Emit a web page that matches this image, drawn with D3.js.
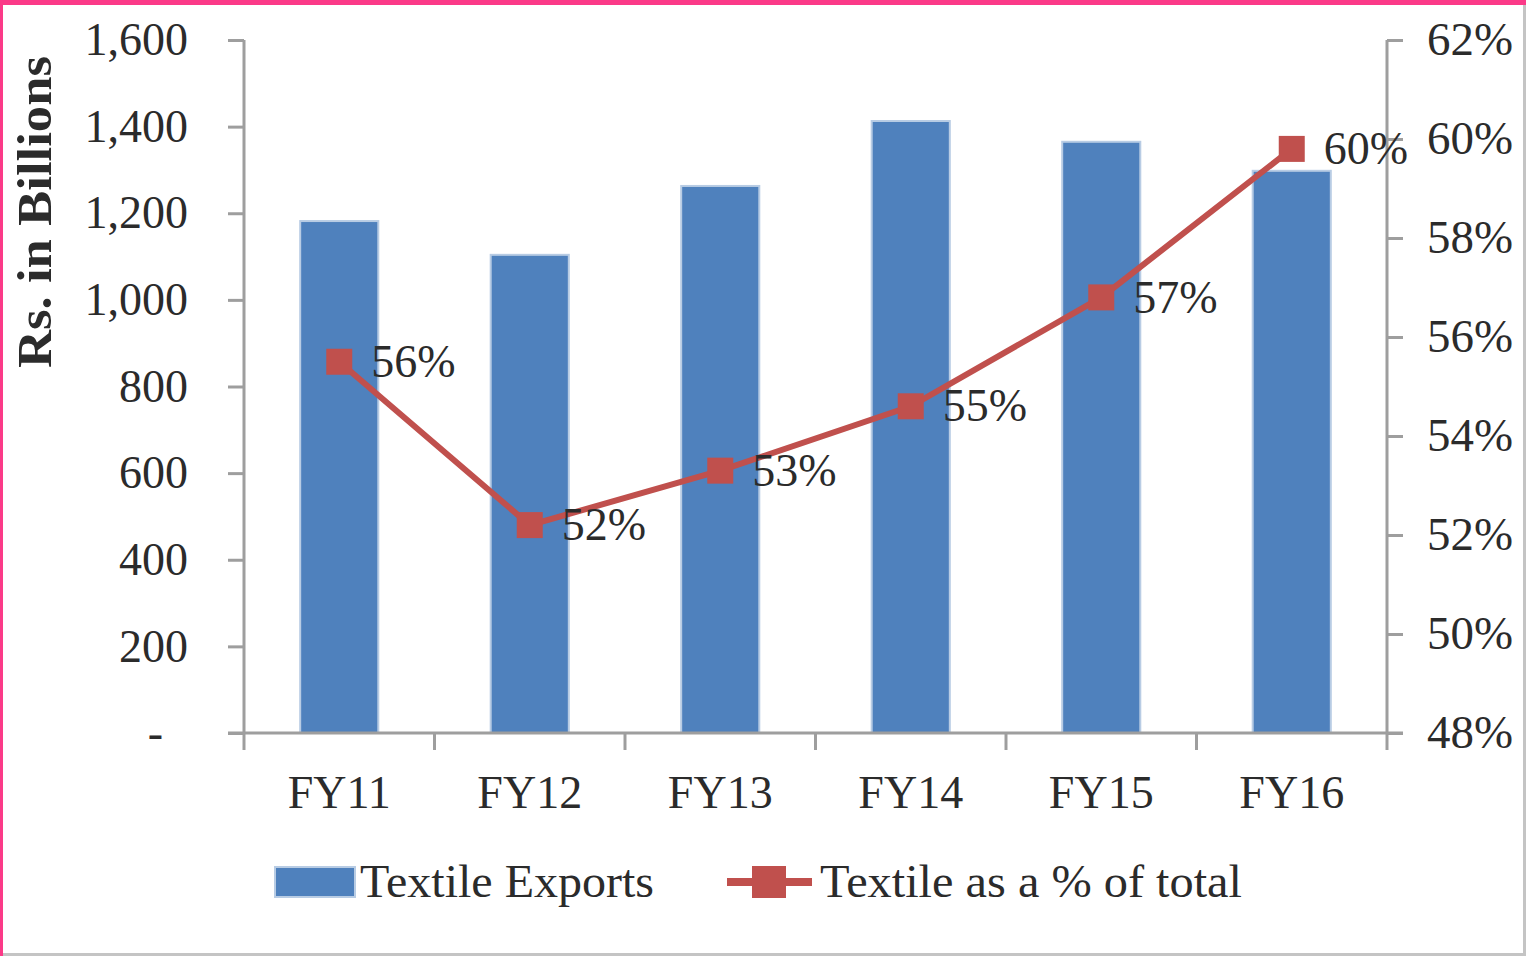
<!DOCTYPE html>
<html>
<head>
<meta charset="utf-8">
<script src="https://cdn.jsdelivr.net/npm/d3@7"></script>
<style>
  body { margin: 0; background: #fff; }
  text { font-family: "Liberation Serif", "Times New Roman", serif; fill: #2b2b2b; }
</style>
</head>
<body>
<div id="chart"></div>
<script>
// chart data
const categories = ["FY11", "FY12", "FY13", "FY14", "FY15", "FY16"];
const exportsValues = [1182, 1104, 1263, 1413, 1365, 1298];
const sharePct = [55.5, 52.2, 53.3, 54.6, 56.8, 59.8];
const shareLabels = ["56%", "52%", "53%", "55%", "57%", "60%"];
const leftTicks = [0, 200, 400, 600, 800, 1000, 1200, 1400, 1600];
const rightTicks = [48, 50, 52, 54, 56, 58, 60, 62];

const W = 1526, H = 956;
var margin = { top: 40, right: 139, bottom: 223, left: 244 },
  width = W - margin.left - margin.right,
  height = H - margin.top - margin.bottom;
var barColor = "#4f81bd";
var lineColor = "#c0504d";
var axisColor = "#9e9e9e";

var root = d3.select("#chart").append("svg")
  .attr("width", W).attr("height", H);

// frame
root.append("rect").attr("x", 0).attr("y", 0).attr("width", W).attr("height", 5).attr("fill", "#fb3a88");
root.append("rect").attr("x", 0).attr("y", 0).attr("width", 3).attr("height", H).attr("fill", "#fb3a88");
root.append("rect").attr("x", W - 3).attr("y", 5).attr("width", 3).attr("height", H).attr("fill", "#c4c4c4");
root.append("rect").attr("x", 3).attr("y", H - 3).attr("width", W).attr("height", 3).attr("fill", "#c4c4c4");

var svg = root.append("g")
  .attr("transform", "translate(" + margin.left + "," + margin.top + ")");

var x = d3.scaleBand().domain(categories).range([0, width]).paddingInner(0.59).paddingOuter(0.295);
var xb = d3.scaleBand().domain(categories).range([0, width]);
var y = d3.scaleLinear().domain([0, 1600]).range([height, 0]);
var y2 = d3.scaleLinear().domain([48, 62]).range([height, 0]);

// bars
svg.selectAll(".bar").data(exportsValues).enter().append("rect")
  .attr("class", "bar")
  .attr("x", (d, i) => x(categories[i]))
  .attr("width", x.bandwidth())
  .attr("y", d => y(d))
  .attr("height", d => height - y(d))
  .attr("fill", barColor)
  .attr("stroke", "#b8cce4").attr("stroke-width", 2);

// left axis
var yAxis = d3.axisLeft(y).tickValues(leftTicks).tickSize(16).tickPadding(40)
  .tickFormat(d => d === 0 ? "-" : d3.format(",")(d));
var gl = svg.append("g").call(yAxis);
gl.select(".domain").remove();
gl.append("line").attr("x1", 0).attr("x2", 0).attr("y1", 0).attr("y2", height)
  .attr("stroke", axisColor).attr("stroke-width", 3);
gl.selectAll(".tick line").attr("stroke", axisColor).attr("stroke-width", 3);
gl.selectAll(".tick text").style("font-size", "46px").attr("fill", "#2b2b2b")
  .attr("dx", d => d === 0 ? -25 : 0);

// right axis
var yAxis2 = d3.axisRight(y2).tickValues(rightTicks).tickSize(16).tickPadding(24)
  .tickFormat(d => d + "%");
var gr = svg.append("g").attr("transform", "translate(" + width + ",0)").call(yAxis2);
gr.select(".domain").remove();
gr.append("line").attr("x1", 0).attr("x2", 0).attr("y1", 0).attr("y2", height)
  .attr("stroke", axisColor).attr("stroke-width", 3);
gr.selectAll(".tick line").attr("stroke", axisColor).attr("stroke-width", 3);
gr.selectAll(".tick text").style("font-size", "46px").attr("fill", "#2b2b2b")
  .attr("textLength", 86).attr("lengthAdjust", "spacingAndGlyphs");

// bottom axis
var gx = svg.append("g").attr("transform", "translate(0," + height + ")");
gx.append("line").attr("x1", -16).attr("x2", width + 16).attr("y1", 0).attr("y2", 0)
  .attr("stroke", axisColor).attr("stroke-width", 3);
gx.selectAll(".sep").data(categories.concat(["end"])).enter().append("line")
  .attr("x1", (d, i) => i < categories.length ? xb(d) : width)
  .attr("x2", (d, i) => i < categories.length ? xb(d) : width)
  .attr("y1", 0).attr("y2", 17)
  .attr("stroke", axisColor).attr("stroke-width", 3);
gx.selectAll(".xl").data(categories).enter().append("text")
  .attr("x", d => xb(d) + xb.bandwidth() / 2)
  .attr("y", 75)
  .attr("text-anchor", "middle")
  .style("font-size", "46px")
  .text(d => d);

// line
var line = d3.line()
  .x((d, i) => xb(categories[i]) + xb.bandwidth() / 2)
  .y(d => y2(d));
svg.append("path").datum(sharePct)
  .attr("d", line).attr("fill", "none")
  .attr("stroke", lineColor).attr("stroke-width", 6);
svg.selectAll(".mk").data(sharePct).enter().append("rect")
  .attr("x", (d, i) => xb(categories[i]) + xb.bandwidth() / 2 - 13)
  .attr("y", d => y2(d) - 13)
  .attr("width", 26).attr("height", 26)
  .attr("fill", lineColor);
svg.selectAll(".lbl").data(sharePct).enter().append("text")
  .attr("x", (d, i) => xb(categories[i]) + xb.bandwidth() / 2 + 32)
  .attr("y", d => y2(d))
  .attr("dy", "0.33em")
  .style("font-size", "46px")
  .text((d, i) => shareLabels[i]);

// y title
root.append("text")
  .attr("transform", "translate(51,212) rotate(-90)")
  .attr("text-anchor", "middle")
  .style("font-size", "48px").style("font-weight", "bold")
  .attr("fill", "#000")
  .attr("textLength", 312).attr("lengthAdjust", "spacingAndGlyphs")
  .text("Rs. in Billions");

// legend
var lg = root.append("g").attr("transform", "translate(0,882)");
lg.append("rect").attr("x", 275).attr("y", -15).attr("width", 80).attr("height", 30)
  .attr("fill", barColor).attr("stroke", "#b8cce4").attr("stroke-width", 2);
lg.append("text").attr("x", 360).attr("dy", "0.33em").style("font-size", "46px")
  .attr("textLength", 294).attr("lengthAdjust", "spacingAndGlyphs")
  .text("Textile Exports");
lg.append("line").attr("x1", 727).attr("x2", 812).attr("y1", 0).attr("y2", 0)
  .attr("stroke", lineColor).attr("stroke-width", 8);
lg.append("rect").attr("x", 752).attr("y", -16).attr("width", 34).attr("height", 32).attr("fill", lineColor);
lg.append("text").attr("x", 820).attr("dy", "0.33em").style("font-size", "46px")
  .attr("textLength", 422).attr("lengthAdjust", "spacingAndGlyphs")
  .text("Textile as a % of total");
</script>
</body>
</html>
